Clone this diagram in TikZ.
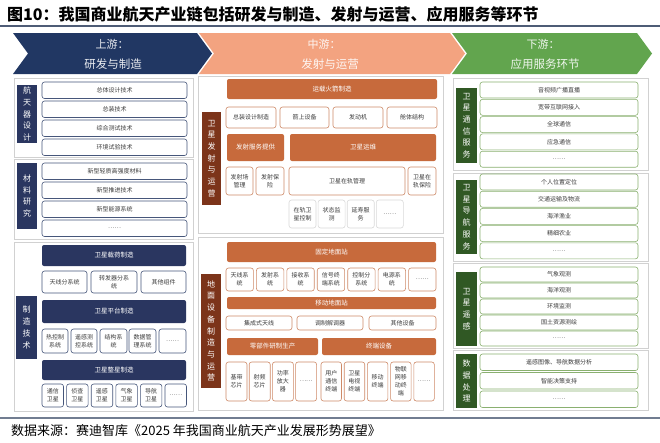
\documentclass[tikz,border=0pt]{standalone}
\usepackage{fontspec}
\setmainfont{Noto Sans CJK SC}
\usepackage{tikz}
\usetikzlibrary{positioning, calc}
\definecolor{bannavy}{RGB}{33,55,99}
\definecolor{bansalmon}{RGB}{243,163,128}
\definecolor{bangreen}{RGB}{98,165,78}
\definecolor{navyl}{RGB}{42,54,96}
\definecolor{navyb}{RGB}{70,86,122}
\definecolor{brownl}{RGB}{124,52,26}
\definecolor{orangeh}{RGB}{199,106,60}
\definecolor{orangeb}{RGB}{206,138,104}
\definecolor{greenl}{RGB}{48,88,36}
\definecolor{greenb}{RGB}{138,176,112}
\definecolor{rulecol}{RGB}{78,92,118}
\definecolor{itemtext}{RGB}{60,60,60}

% box from corner (x1,y1) to corner (x2,y2), y downwards
\newcommand{\cell}[7]{%
  \node[#1, minimum width={(#4)-(#2)}, minimum height={(#5)-(#3)}] (#6)
    at ({((#2)+(#4))/2},{((#3)+(#5))/2}) {#7};}

\begin{document}
\begin{tikzpicture}[x=1pt, y=-1pt,
    grp/.style={draw=black!18, line width=0.7pt, fill=white, inner sep=0pt},
    lab/.style={fill=#1, text=white, align=center, inner sep=0pt,
                font=\fontsize{8}{11.7}\selectfont},
    hdr/.style={fill=#1, text=white, rounded corners=2pt, inner sep=0pt,
                font=\fontsize{6.5}{8}\selectfont},
    itm/.style={draw=#1, line width=0.6pt, fill=white, rounded corners=2.5pt,
                align=center, inner sep=0pt, text=itemtext,
                font=\fontsize{6}{8}\selectfont},
    bantxt/.style={text=white, text opacity=0.9, inner sep=0pt}
  ]
  \useasboundingbox (0,0) rectangle (660,442);

  % title and rules
  \node[anchor=west, inner sep=0pt, font=\fontsize{16}{16}\selectfont\bfseries] (title) at (7,14)
    {图10：我国商业航天产业链包括研发与制造、发射与运营、应用服务等环节};
  \draw[rulecol, line width=1.3pt] (0,26) -- (660,26);
  \draw[rulecol!80, line width=2pt] (0,418) -- (660,418);
  \node[anchor=west, inner sep=0pt, font=\fontsize{13}{13}\selectfont] (src) at (11,431)
    {数据来源：赛迪智库《2025 年我国商业航天产业发展形势展望》};

  % banner chevrons
  \fill[bannavy] (13,33) -- (197,33) -- (212,53.5) -- (197,74) -- (13,74) -- (28,53.5) -- cycle;
  \fill[bansalmon] (199,33) -- (450,33) -- (465,53.5) -- (450,74) -- (199,74) -- (214,53.5) -- cycle;
  \fill[bangreen] (452,33) -- (637,33) -- (652,53.5) -- (637,74) -- (452,74) -- (467,53.5) -- cycle;
  \node[bantxt, font=\fontsize{11}{11}\selectfont] (up1) at (112,44) {上游：};
  \node[bantxt, font=\fontsize{11.5}{11.5}\selectfont] (up2) at (113,64) {研发与制造};
  \node[bantxt, font=\fontsize{11}{11}\selectfont] (mid1) at (324,44) {中游：};
  \node[bantxt, font=\fontsize{11.5}{11.5}\selectfont] (mid2) at (330,64) {发射与运营};
  \node[bantxt, font=\fontsize{11}{11}\selectfont] (down1) at (543,44) {下游：};
  \node[bantxt, font=\fontsize{11.5}{11.5}\selectfont] (down2) at (545,64) {应用服务环节};

  % ---------- upstream ----------
  \cell{grp}{14}{78}{193}{157}{gDsgn}{}
  \cell{lab=navyl}{17}{85}{37}{143}{lDsgn}{航\\天\\器\\设\\计}
  \foreach \t [count=\i from 0] in {总体设计技术,总装技术,综合测试技术,环境试验技术}
    \cell{itm=navyb}{42}{82+19*\i}{187}{98.5+19*\i}{dsgn-\i}{\t};

  \cell{grp}{14}{159}{193}{239}{gMat}{}
  \cell{lab=navyl}{17}{163}{37}{229}{lMat}{材\\料\\研\\究}
  \foreach \t [count=\i from 0] in {新型轻质高强度材料,新型推进技术,新型能源系统,……}
    \cell{itm=navyb}{42}{163+19*\i}{187}{179.5+19*\i}{mat-\i}{\t};

  \cell{grp}{14}{242}{193}{411}{gMfg}{}
  \cell{lab=navyl}{16}{296}{37}{359}{lMfg}{制\\造\\技\\术}
  \cell{hdr=navyl}{42}{245}{186}{266}{hLoad}{卫星载荷制造}
  \cell{itm=navyb}{42}{271}{87}{293}{load-1}{天线分系统}
  \cell{itm=navyb}{91}{271}{137}{293}{load-2}{转发器分系\\统}
  \cell{itm=navyb}{141}{271}{186}{293}{load-3}{其他组件}
  \cell{hdr=navyl}{42}{300}{186}{323}{hPlat}{卫星平台制造}
  \cell{itm=navyb}{42}{329}{68}{353}{plat-1}{热控制\\系统}
  \cell{itm=navyb}{71}{329}{97}{353}{plat-2}{遥感测\\控系统}
  \cell{itm=navyb}{100}{329}{127}{353}{plat-3}{结构系\\统}
  \cell{itm=navyb}{129}{329}{156}{353}{plat-4}{数据管\\理系统}
  \cell{itm=navyb}{159}{329}{186}{353}{plat-5}{……}
  \cell{hdr=navyl}{42}{360}{186}{380}{hSat}{卫星整星制造}
  \foreach \t [count=\i from 0] in {通信\\卫星,侦查\\卫星,遥感\\卫星,气象\\卫星,导航\\卫星,……}
    \cell{itm=navyb}{42+24.6*\i}{384}{63.5+24.6*\i}{407}{sat-\i}{\t};

  % ---------- midstream ----------
  \cell{grp}{198}{76}{443}{233}{gLaunch}{}
  \cell{lab=brownl}{202}{112}{221}{205}{lLaunch}{卫\\星\\发\\射\\与\\运\\营}
  \cell{hdr=orangeh}{227}{79}{437}{99}{hRocket}{运载火箭制造}
  \cell{itm=orangeb}{226}{107}{276}{128}{rkt-1}{总装设计制造}
  \cell{itm=orangeb}{280}{107}{329}{128}{rkt-2}{箭上设备}
  \cell{itm=orangeb}{333}{107}{383}{128}{rkt-3}{发动机}
  \cell{itm=orangeb}{387}{107}{437}{128}{rkt-4}{舱体结构}
  \cell{hdr=orangeh}{227}{134}{284}{161}{hServ}{发射服务提供}
  \cell{hdr=orangeh}{290}{134}{436}{161}{hOps}{卫星运维}
  \cell{itm=orangeb}{226}{167}{253}{195}{srv-1}{发射场\\管理}
  \cell{itm=orangeb}{256}{167}{284}{195}{srv-2}{发射保\\险}
  \cell{itm=orangeb}{289}{167}{405}{195}{ops-1}{卫星在轨管理}
  \cell{itm=orangeb}{408}{167}{436}{195}{ops-2}{卫星在\\轨保险}
  \foreach \t [count=\i from 0] in {在轨卫\\星控制,状态监\\测,延寿服\\务,……}
    \cell{itm=black!15}{289+29.1*\i}{200}{316+29.1*\i}{228}{orb-\i}{\t};

  \cell{grp}{198}{237}{443}{410}{gGround}{}
  \cell{lab=brownl}{201}{274}{221}{388}{lGround}{地\\面\\设\\备\\制\\造\\与\\运\\营}
  \cell{hdr=orangeh}{227}{242}{436}{262}{hFixed}{固定地面站}
  \foreach \t [count=\i from 0] in {天线系\\统,发射系\\统,接收系\\统,信号终\\端系统,控制分\\系统,电源系\\统,……}
    \cell{itm=orangeb}{226+30.43*\i}{268}{253.4+30.43*\i}{291}{fix-\i}{\t};
  \cell{hdr=orangeh}{227}{297}{436}{309}{hMobile}{移动地面站}
  \cell{itm=orangeb}{226}{316}{292}{330}{mob-1}{集成式天线}
  \cell{itm=orangeb}{297}{316}{363}{330}{mob-2}{调制解调器}
  \cell{itm=orangeb}{369}{316}{436}{330}{mob-3}{其他设备}
  \cell{hdr=orangeh}{227}{338}{318}{355}{hParts}{零部件研制生产}
  \cell{hdr=orangeh}{322}{338}{436}{355}{hTerm}{终端设备}
  \foreach \t [count=\i from 0] in {基带\\芯片,射频\\芯片,功率\\放大\\器,……}
    \cell{itm=orangeb}{226+23.2*\i}{362}{247+23.2*\i}{401}{part-\i}{\t};
  \foreach \t [count=\i from 0] in {用户\\通信\\终端,卫星\\电视\\终端,移动\\终端,物联\\网移\\动终\\端,……}
    \cell{itm=orangeb}{321+23.2*\i}{362}{341.5+23.2*\i}{401}{term-\i}{\t};

  % ---------- downstream ----------
  \cell{grp}{453}{78}{648}{170}{gComm}{}
  \cell{lab=greenl}{456}{88}{477}{163}{lComm}{卫\\星\\通\\信\\服\\务}
  \foreach \t [count=\i from 0] in {音视频广播直播,宽带互联网接入,全球通信,应急通信,……}
    \cell{itm=greenb}{480}{82+17.3*\i}{638}{98+17.3*\i}{comm-\i}{\t};

  \cell{grp}{453}{173}{648}{261}{gNav}{}
  \cell{lab=greenl}{456}{180}{477}{254}{lNav}{卫\\星\\导\\航\\服\\务}
  \foreach \t [count=\i from 0] in {个人位置定位,交通运输及物流,海洋渔业,精细农业,……}
    \cell{itm=greenb}{480}{174+17.2*\i}{638}{190+17.2*\i}{nav-\i}{\t};

  \cell{grp}{453}{263}{648}{348}{gRs}{}
  \cell{lab=greenl}{456}{272}{477}{346}{lRs}{卫\\星\\遥\\感}
  \foreach \t [count=\i from 0] in {气象观测,海洋观测,环境监测,国土资源测绘,……}
    \cell{itm=greenb}{480}{267+16*\i}{638}{282+16*\i}{rs-\i}{\t};

  \cell{grp}{453}{350}{648}{410}{gData}{}
  \cell{lab=greenl}{456}{354}{477}{408}{lData}{数\\据\\处\\理}
  \foreach \t [count=\i from 0] in {遥感图像、导航数据分析,智能决策支持,……}
    \cell{itm=greenb}{480}{354+18.5*\i}{638}{370.5+18.5*\i}{data-\i}{\t};
\end{tikzpicture}
\end{document}
